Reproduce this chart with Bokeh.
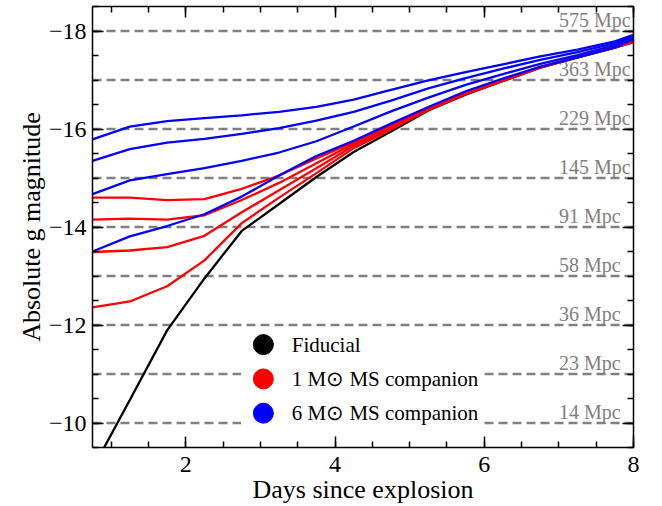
import numpy as np
from bokeh.plotting import figure
from bokeh.models import Range1d, LinearAxis, FixedTicker, Span, BoxAnnotation
from bokeh.core.properties import value
from bokeh.embed import file_html
from bokeh.resources import INLINE

FONT = "Liberation Serif"

# ---- data -------------------------------------------------------------
days = [0.75, 1.25, 1.75, 2.25, 2.75, 3.25, 3.75, 4.25, 4.75, 5.25, 5.75,
        6.25, 6.75, 7.25, 7.75, 8.0]

fiducial = [-9.06, -10.47, -11.89, -12.95, -13.92, -14.47, -15.02, -15.53,
            -15.95, -16.38, -16.70, -16.98, -17.25, -17.46, -17.66, -17.77]

ms1_a = [-14.60, -14.60, -14.55, -14.57, -14.78, -15.05, -15.40, -15.73,
         -16.08, -16.43, -16.74, -17.01, -17.27, -17.47, -17.67, -17.79]
ms1_b = [-14.15, -14.17, -14.15, -14.24, -14.55, -14.90, -15.30, -15.70,
         -16.05, -16.41, -16.73, -17.00, -17.26, -17.47, -17.67, -17.79]
ms1_c = [-13.49, -13.52, -13.59, -13.82, -14.30, -14.75, -15.20, -15.66,
         -16.02, -16.40, -16.72, -16.99, -17.26, -17.46, -17.67, -17.78]
ms1_d = [-12.36, -12.48, -12.79, -13.32, -14.08, -14.60, -15.10, -15.61,
         -15.99, -16.39, -16.71, -16.98, -17.25, -17.46, -17.66, -17.78]

ms6_a = [-15.79, -16.05, -16.16, -16.22, -16.28, -16.35, -16.45, -16.60,
         -16.80, -16.99, -17.16, -17.32, -17.48, -17.62, -17.79, -17.92]
ms6_b = [-15.35, -15.59, -15.72, -15.80, -15.90, -16.02, -16.17, -16.35,
         -16.58, -16.83, -17.04, -17.23, -17.41, -17.57, -17.75, -17.89]
ms6_c = [-14.67, -14.95, -15.08, -15.20, -15.35, -15.52, -15.75, -16.05,
         -16.36, -16.64, -16.90, -17.12, -17.33, -17.51, -17.71, -17.87]
ms6_d = [-13.50, -13.81, -14.02, -14.26, -14.62, -15.05, -15.45, -15.76,
         -16.11, -16.45, -16.77, -17.03, -17.27, -17.46, -17.66, -17.84]

mag_levels = [-10, -11, -12, -13, -14, -15, -16, -17, -18]
distance_labels = ["14 Mpc", "23 Mpc", "36 Mpc", "58 Mpc", "91 Mpc",
                   "145 Mpc", "229 Mpc", "363 Mpc", "575 Mpc"]

x_major = [2, 4, 6, 8]
y_major = [-18, -16, -14, -12, -10]
y_tick_text = ["\u221218", "\u221216", "\u221214", "\u221212", "\u221210"]

legend_labels = ["Fiducial", "1 M\u2299 MS companion", "6 M\u2299 MS companion"]
legend_colors = ["black", "#ff0000", "#0000ff"]

# ---- layout constants (screen placement, not data) ---------------------
X0, X1 = 0.75, 8.0
Y0, Y1 = -9.5, -18.5
LABEL_X = 7.0                      # left edge of the distance labels
LEG_MARK_X, LEG_TEXT_X = 3.04, 3.42
LEG_ROWS_Y = [-11.60, -10.90, -10.20]

# ---- figure -----------------------------------------------------------
p = figure(width=662, height=506, x_range=Range1d(X0, X1),
           y_range=Range1d(Y0, Y1), output_backend="svg",
           toolbar_location=None, min_border_left=92, min_border_right=29,
           min_border_top=6, min_border_bottom=59)
p.grid.visible = False
p.outline_line_color = None
p.background_fill_color = "white"
p.border_fill_color = "white"

x_minor = list(np.arange(1.0, 8.01, 0.5))
y_minor = list(np.arange(-18.5, -9.49, 0.5))


def style_axis(ax, ticks, minor, show):
    ax.ticker = FixedTicker(ticks=ticks, minor_ticks=minor)
    ax.major_tick_in = 11
    ax.major_tick_out = 0
    ax.minor_tick_in = 6
    ax.minor_tick_out = 0
    ax.axis_line_width = 1.5
    ax.major_tick_line_width = 1.5
    ax.minor_tick_line_width = 1.5
    ax.axis_line_color = "black"
    ax.major_tick_line_color = "black"
    ax.minor_tick_line_color = "black"
    ax.major_label_text_font = FONT
    ax.axis_label_text_font = FONT
    ax.axis_label_text_font_style = "normal"
    ax.axis_label_text_color = "black"
    ax.major_label_text_font_size = "24px"
    ax.axis_label_text_font_size = "26px"
    if show:
        ax.major_label_text_color = "black"
    else:
        ax.major_label_text_color = None
        ax.major_label_standoff = 0


xa = p.xaxis[0]
style_axis(xa, x_major, x_minor, True)
xa.axis_label = "Days since explosion"
xa.major_label_standoff = 9
xa.axis_label_standoff = 0

ya = p.yaxis[0]
style_axis(ya, y_major, y_minor, True)
ya.axis_label = "Absolute g magnitude"
ya.major_label_standoff = 6
ya.axis_label_standoff = 0
ya.major_label_overrides = {v: t for v, t in zip(y_major, y_tick_text)}

top_ax = LinearAxis()
style_axis(top_ax, x_major, x_minor, False)
p.add_layout(top_ax, "above")
right_ax = LinearAxis()
style_axis(right_ax, y_major, y_minor, False)
p.add_layout(right_ax, "right")

# ---- distance reference lines -----------------------------------------
for m in mag_levels:
    p.add_layout(Span(location=m, dimension="width", line_color="#808080",
                      line_width=2.5, line_dash="9 5", level="underlay"))

# white patch behind the legend hides the dashed lines there
p.add_layout(BoxAnnotation(left=2.74, right=6.0, top=-11.8, bottom=Y0,
                           fill_color="white", fill_alpha=1.0,
                           line_color=None, level="underlay"))

p.text(x=[LABEL_X] * len(mag_levels), y=mag_levels, text=distance_labels,
       text_font=value(FONT), text_font_size="20px", text_color="#808080",
       text_align="left", text_baseline="bottom")

# ---- curves -----------------------------------------------------------
p.line(days, fiducial, line_color="black", line_width=2.3)
for s in [ms1_a, ms1_b, ms1_c, ms1_d]:
    p.line(days, s, line_color="#ff0000", line_width=2.3)
for s in [ms6_a, ms6_b, ms6_c, ms6_d]:
    p.line(days, s, line_color="#0000ff", line_width=2.3)

# ---- legend (drawn by hand so the markers match the reference size) -----
p.scatter(x=[LEG_MARK_X] * 3, y=LEG_ROWS_Y, size=20,
          fill_color=legend_colors, line_color=legend_colors)
p.text(x=[LEG_TEXT_X] * 3, y=LEG_ROWS_Y, text=legend_labels,
       text_font=value(FONT), text_font_size="21px", text_color="black",
       text_align="left", text_baseline="middle")

open("out.html", "w").write(file_html(p, INLINE))
